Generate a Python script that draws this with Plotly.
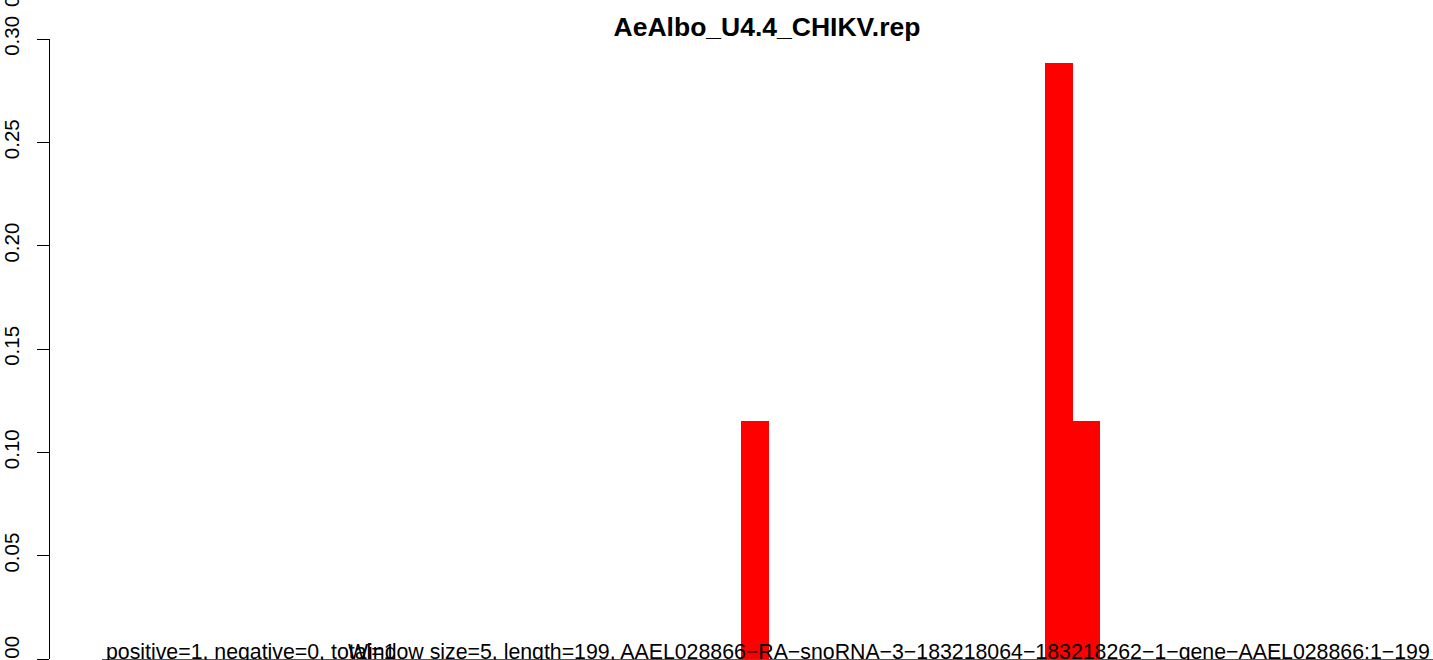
import plotly.graph_objects as go

# ---- data ----
title_text = "AeAlbo_U4.4_CHIKV.rep"
window_size = 5
window_starts = list(range(0, 200, 5))  # 40 windows over length 199
values = [0.0] * 40
values[23] = 0.1154   # window starting at 115
values[34] = 0.2885   # window starting at 170
values[35] = 0.1154   # window starting at 175
y_tickvals = [0.00, 0.05, 0.10, 0.15, 0.20, 0.25, 0.30]
y_ticktext = ["0.00", "0.05", "0.10", "0.15", "0.20", "0.25", "0.30"]
counts_text = "positive=1, negative=0, total=1"
info_text = "Window size=5, length=199, AAEL028866\u2212RA\u2212snoRNA\u22123\u2212183218064\u2212183218262\u22121\u2212gene\u2212AAEL028866:1\u2212199"

FONT = "Liberation Sans, Arial, sans-serif"

fig = go.Figure()
fig.add_trace(go.Bar(
    x=window_starts, y=values, width=window_size, offset=0,
    marker=dict(color="#FF0000", line=dict(width=0)),
    showlegend=False, hoverinfo="x+y",
))

W, H = 1433, 660
ml, mr, mt, mb = 50, 0, 39, 1
plot_h = H - mt - mb
plot_w = W - ml - mr
px_per_nt = 5.52
x0 = -10.25
x1 = x0 + plot_w / px_per_nt


def px(xw):
    return (xw - ml) / plot_w


def py(yw):
    return (659 - yw) / plot_h


fig.update_layout(
    width=W, height=H,
    margin=dict(l=ml, r=mr, t=mt, b=mb, pad=0, autoexpand=False),
    paper_bgcolor="white", plot_bgcolor="white",
    font=dict(family=FONT, color="black", size=20.5),
    title=dict(text="<b>" + title_text + "</b>", x=767 / W, xref="container",
               xanchor="center", y=1 - 27 / H, yanchor="middle",
               font=dict(family=FONT, size=26.5, color="black")),
    bargap=0,
    xaxis=dict(range=[x0, x1], visible=False, showgrid=False, zeroline=False,
               automargin=False),
    yaxis=dict(range=[0, 0.30], tickvals=y_tickvals, ticktext=y_ticktext,
               showgrid=False, zeroline=False, showline=True, linecolor="black",
               linewidth=1, ticks="outside", ticklen=12, tickcolor="black", tickwidth=1,
               tickangle=-90, ticklabelstandoff=10, ticklabeloverflow="allow",
               automargin=False,
               tickfont=dict(family=FONT, size=20.5, color="black")),
)

# bottom texts (clipped at bottom edge, as in reference)
y_text = py(652)
fig.add_annotation(text=counts_text, xref="paper", yref="paper",
                   x=px(104), y=y_text, xanchor="left", yanchor="middle",
                   showarrow=False, font=dict(family=FONT, size=21.3, color="black"))
fig.add_annotation(text=info_text, xref="paper", yref="paper",
                   x=px(1432), y=y_text, xanchor="right", yanchor="middle",
                   showarrow=False, font=dict(family=FONT, size=21.3, color="black"))
# fragment of a neighbouring label clipped at the top-left corner
fig.add_annotation(text="0.30", xref="paper", yref="paper",
                   x=px(11), y=py(9), xanchor="center", yanchor="bottom",
                   textangle=-90, showarrow=False, font=dict(family=FONT, size=20.5, color="black"))
# thin line along the bottom edge under the text
fig.add_shape(type="line", xref="paper", yref="paper",
              x0=px(102), x1=1, y0=py(659.5), y1=py(659.5),
              line=dict(color="#555555", width=1))

fig.write_html("out.html", config={"displayModeBar": False},
               post_script="document.body.style.margin='0';document.body.style.overflow='hidden';")
